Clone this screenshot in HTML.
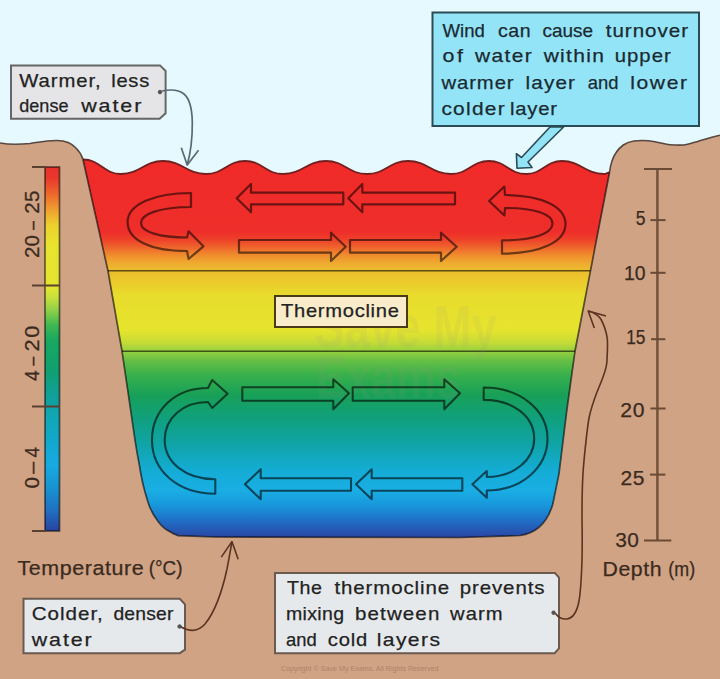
<!DOCTYPE html>
<html><head><meta charset="utf-8">
<style>
html,body{margin:0;padding:0;background:#e5f9fe;overflow:hidden;}
svg{display:block;}
text{font-family:"Liberation Sans",sans-serif;}
</style></head>
<body>
<svg width="720" height="679" viewBox="0 0 720 679">
<defs>
<linearGradient id="wg" gradientUnits="userSpaceOnUse" x1="0" y1="159" x2="0" y2="538">
<stop offset="0.0000" stop-color="#f02a28"/>
<stop offset="0.1926" stop-color="#ee2e2a"/>
<stop offset="0.2137" stop-color="#ee422a"/>
<stop offset="0.2348" stop-color="#ef682c"/>
<stop offset="0.2559" stop-color="#f0902e"/>
<stop offset="0.2744" stop-color="#efaa30"/>
<stop offset="0.2929" stop-color="#edbc2e"/>
<stop offset="0.3272" stop-color="#ebcc2c"/>
<stop offset="0.3588" stop-color="#e8dc2c"/>
<stop offset="0.4512" stop-color="#e6e42e"/>
<stop offset="0.4828" stop-color="#c8dc36"/>
<stop offset="0.5066" stop-color="#98d040"/>
<stop offset="0.5303" stop-color="#68c044"/>
<stop offset="0.5699" stop-color="#38b04c"/>
<stop offset="0.6227" stop-color="#18a058"/>
<stop offset="0.6887" stop-color="#10a080"/>
<stop offset="0.7546" stop-color="#10a4a8"/>
<stop offset="0.8206" stop-color="#14acd4"/>
<stop offset="0.8734" stop-color="#1aaee4"/>
<stop offset="0.9129" stop-color="#1898dc"/>
<stop offset="0.9525" stop-color="#2070c8"/>
<stop offset="1.0000" stop-color="#2a44a2"/>
</linearGradient>
<linearGradient id="tb" gradientUnits="userSpaceOnUse" x1="0" y1="167" x2="0" y2="532">
<stop offset="0.0000" stop-color="#e8302c"/>
<stop offset="0.0301" stop-color="#ea382c"/>
<stop offset="0.0767" stop-color="#ee6a2c"/>
<stop offset="0.1178" stop-color="#f0a030"/>
<stop offset="0.1589" stop-color="#ecd02e"/>
<stop offset="0.2137" stop-color="#e8e42e"/>
<stop offset="0.3288" stop-color="#e4e430"/>
<stop offset="0.3562" stop-color="#c8e03c"/>
<stop offset="0.3918" stop-color="#90d048"/>
<stop offset="0.4329" stop-color="#40b850"/>
<stop offset="0.4740" stop-color="#18a860"/>
<stop offset="0.5562" stop-color="#10a070"/>
<stop offset="0.6384" stop-color="#10a0a0"/>
<stop offset="0.6932" stop-color="#10a8b8"/>
<stop offset="0.7479" stop-color="#12a8cc"/>
<stop offset="0.8164" stop-color="#18aae0"/>
<stop offset="0.8849" stop-color="#1890d0"/>
<stop offset="0.9397" stop-color="#2070c0"/>
<stop offset="1.0000" stop-color="#2a40a0"/>
</linearGradient>
</defs>
<rect x="0" y="0" width="720" height="679" fill="#e5f9fe"/>
<path d="M0,143 C8,144.5 20,144.5 30,143.5 C40,142 48,140.3 57,140.5 C66,140.7 72,143.5 76,148 C79,151 81.5,154.5 83,159.5 L108,271 L122,351 L135,440 C136.5,450 138,458 139.2,464 C140.5,472 141.8,480 143.6,486.5 C145.5,494 147.3,500.5 149.5,506.4 C151.8,512 154,516 156.8,519.6 C160,524.5 163.5,528 167.4,530.3 C171,532.5 174.5,534.5 178,535.6 L215,537 L460,537.5 L520,535.5 C538,533 548,520 552.7,504.5 L559,473.6 L566.6,411.8 L575,351 L590.5,270.6 L609.5,172.5 C610,168 611,164 612,161 C614,155 618,149 623.3,145 C627,142.5 630,141.5 634,141 C640,140.2 647,140.3 655,141.7 C662,143 665,144.5 670,144.8 C676,145.2 680,145.3 684,145 C690,144 693,142.8 697,141.7 C703,140 707,138.6 711,137.5 C714,136.7 717,136 720,135.3 L720,679 L0,679 Z" fill="#cfa384"/>
<path d="M0,143 C8,144.5 20,144.5 30,143.5 C40,142 48,140.3 57,140.5 C66,140.7 72,143.5 76,148 C79,151 81.5,154.5 83,159.5" fill="none" stroke="#574840" stroke-width="1.6"/>
<path d="M609.5,172.5 C610,168 611,164 612,161 C614,155 618,149 623.3,145 C627,142.5 630,141.5 634,141 C640,140.2 647,140.3 655,141.7 C662,143 665,144.5 670,144.8 C676,145.2 680,145.3 684,145 C690,144 693,142.8 697,141.7 C703,140 707,138.6 711,137.5 C714,136.7 717,136 720,135.3" fill="none" stroke="#574840" stroke-width="1.6"/>
<path d="M83,159.5 C100.5,159.5 103.5,174 121,174 C140.3,174 143.7,161 163,161 C182.8,161 186.2,174 206,174 C223.9,174 227.1,161 245,161 C262.5,161 265.5,174 283,174 C302.8,174 306.2,161 326,161 C344.9,161 348.1,174 367,174 C385.9,174 389.1,161 408,161 C427.8,161 431.2,174 451,174 C468.5,174 471.5,161 489,161 C506.0,161 509.0,174 526,174 C542.6,174 545.4,161 562,161 C581.3,161 584.7,174 604,174 C606.5,174 607.0,172.5 609.5,172.5 L590.5,270.6 L575,351 L566.6,411.8 L559,473.6 L552.7,504.5 C548,520 538,533 520,535.5 L460,537.5 L215,537 L178,535.6 C174.5,534.5 171,532.5 167.4,530.3 C163.5,528 160,524.5 156.8,519.6 C154,516 151.8,512 149.5,506.4 C147.3,500.5 145.5,494 143.6,486.5 C141.8,480 140.5,472 139.2,464 C138,458 136.5,450 135,440 L122,351 L108,271 Z" fill="url(#wg)"/>
<path d="M83,159.5 C100.5,159.5 103.5,174 121,174 C140.3,174 143.7,161 163,161 C182.8,161 186.2,174 206,174 C223.9,174 227.1,161 245,161 C262.5,161 265.5,174 283,174 C302.8,174 306.2,161 326,161 C344.9,161 348.1,174 367,174 C385.9,174 389.1,161 408,161 C427.8,161 431.2,174 451,174 C468.5,174 471.5,161 489,161 C506.0,161 509.0,174 526,174 C542.6,174 545.4,161 562,161 C581.3,161 584.7,174 604,174 C606.5,174 607.0,172.5 609.5,172.5" fill="none" stroke="#702020" stroke-width="1.8"/>
<path d="M83,159.5 L108,271 L122,351 L135,440 C136.5,450 138,458 139.2,464 C140.5,472 141.8,480 143.6,486.5 C145.5,494 147.3,500.5 149.5,506.4 C151.8,512 154,516 156.8,519.6 C160,524.5 163.5,528 167.4,530.3 C171,532.5 174.5,534.5 178,535.6 L215,537 L460,537.5 L520,535.5 C538,533 548,520 552.7,504.5 L559,473.6 L566.6,411.8 L575,351 L590.5,270.6 L609.5,172.5" fill="none" stroke="#000" stroke-opacity="0.62" stroke-width="1.7" stroke-linejoin="round"/>
<line x1="108" y1="270.8" x2="590.5" y2="270.8" stroke="#000" stroke-opacity="0.6" stroke-width="1.5"/>
<line x1="122" y1="351.3" x2="575" y2="351.3" stroke="#000" stroke-opacity="0.6" stroke-width="1.5"/>
<g fill="#9a9a80" opacity="0.10" font-size="60" font-weight="bold">
<text x="314" y="347" textLength="183" lengthAdjust="spacingAndGlyphs">Save My</text>
<text x="316" y="398" textLength="145" lengthAdjust="spacingAndGlyphs">Exams</text>
</g>
<g fill="none" stroke="#000" stroke-opacity="0.55" stroke-width="2.2" stroke-linejoin="round">
 <path d="M191,193 L191,207 C160,207 141,214 141,223 C141,232 160,237.5 187,237.5 L188.6,231.3 L203.4,246.3 L188.6,259 L187,251 C150,251 127.6,240 127.6,222 C127.6,204 155,193 191,193 Z"/>
 <path d="M236.7,198.3 L251,184 L251,192.7 L343.3,192.7 L343.3,204.3 L251,204.3 L251,212.3 Z"/>
 <path d="M348.3,198.3 L362.3,184 L362.3,192.7 L455,192.7 L455,204.3 L362.3,204.3 L362.3,212.3 Z"/>
 <path d="M239,240 L331,240 L331,232.7 L345.7,246.7 L331,261 L331,252.7 L239,252.7 Z"/>
 <path d="M350,240 L441,240 L441,232.7 L456.7,246.7 L441,261 L441,252.7 L350,252.7 Z"/>
 <path d="M502,240.4 L502,253.7 C540,253.7 565.5,242 565.5,224 C565.5,206 540,195 505,195 L504.4,186.5 L489.1,201 L504.4,215.5 L505,208 C535,208 552.5,214 552.5,223.5 C552.5,233 535,240.4 502,240.4 Z"/>
</g>
<g fill="none" stroke="#000" stroke-opacity="0.6" stroke-width="2.1" stroke-linejoin="round">
 <path d="M215.3,479.3 L215.3,493.7 C178,493.7 152,471 152,440 C152,410 175,388 208,388 L212.2,380 L227.6,393.7 L212.2,408 L208,402 C183,402 164.7,418 164.7,440 C164.7,462 185,479.3 215.3,479.3 Z"/>
 <path d="M242.3,387.3 L333.3,387.3 L333.3,379.3 L349,393.3 L333.3,409.3 L333.3,400.7 L242.3,400.7 Z"/>
 <path d="M352.7,387.3 L444.3,387.3 L444.3,379.3 L460,393.3 L444.3,409.3 L444.3,400.7 L352.7,400.7 Z"/>
 <path d="M245,484.3 L260.7,469.3 L260.7,478.3 L351,478.3 L351,490.7 L260.7,490.7 L260.7,499.3 Z"/>
 <path d="M356,484.3 L371.7,469.3 L371.7,478.3 L462.3,478.3 L462.3,490.7 L371.7,490.7 L371.7,499.3 Z"/>
 <path d="M483.7,387.5 L483.7,399.9 C514,399.9 534.2,417 534.2,438.5 C534.2,460 514,477 486.8,477 L486.8,471 L472.4,484.3 L486.8,497.7 L486.8,490.5 C522,490.5 547.5,467 547.5,438.5 C547.5,410 520,387.5 483.7,387.5 Z"/>
</g>
<rect x="275" y="296" width="132" height="31" fill="#f8ecca" stroke="#4a3a18" stroke-width="2"/>
<text x="281.00" y="316.7" font-size="19" fill="#222" stroke="#222" stroke-width="0.25" letter-spacing="0.67" textLength="118.60" lengthAdjust="spacingAndGlyphs">Thermocline</text>
<rect x="45" y="167" width="14.5" height="364" fill="url(#tb)" stroke="#000" stroke-opacity="0.55" stroke-width="1.7"/>
<g stroke="#5a4030" stroke-width="2">
<line x1="32" y1="167" x2="46" y2="167"/>
<line x1="32" y1="285.5" x2="60" y2="285.5"/>
<line x1="32" y1="406.5" x2="60" y2="406.5"/>
<line x1="32" y1="531" x2="46" y2="531"/>
</g>
<g transform="rotate(-90)">
<text x="-258.00" y="38.9" font-size="20.5" fill="#3a2a20" stroke="#3a2a20" stroke-width="0.25" letter-spacing="0.10" textLength="23.09" lengthAdjust="spacingAndGlyphs">20</text>
<text x="-230.00" y="38.9" font-size="20.5" fill="#3a2a20" stroke="#3a2a20" stroke-width="0.25" textLength="8.98" lengthAdjust="spacingAndGlyphs">–</text>
<text x="-213.75" y="38.9" font-size="20.5" fill="#3a2a20" stroke="#3a2a20" stroke-width="0.25" letter-spacing="0.17" textLength="23.32" lengthAdjust="spacingAndGlyphs">25</text>
</g>
<g transform="rotate(-90)">
<text x="-381.00" y="38.9" font-size="20.5" fill="#3a2a20" stroke="#3a2a20" stroke-width="0.25" textLength="10.62" lengthAdjust="spacingAndGlyphs">4</text>
<text x="-365.70" y="38.9" font-size="20.5" fill="#3a2a20" stroke="#3a2a20" stroke-width="0.25" textLength="8.88" lengthAdjust="spacingAndGlyphs">–</text>
<text x="-351.50" y="38.9" font-size="20.5" fill="#3a2a20" stroke="#3a2a20" stroke-width="0.25" letter-spacing="1.55" textLength="27.54" lengthAdjust="spacingAndGlyphs">20</text>
</g>
<g transform="rotate(-90)">
<text x="-488.50" y="38.9" font-size="20.5" fill="#3a2a20" stroke="#3a2a20" stroke-width="0.25" textLength="11.52" lengthAdjust="spacingAndGlyphs">0</text>
<text x="-473.70" y="38.9" font-size="20.5" fill="#3a2a20" stroke="#3a2a20" stroke-width="0.25" textLength="11.87" lengthAdjust="spacingAndGlyphs">–</text>
<text x="-457.50" y="38.9" font-size="20.5" fill="#3a2a20" stroke="#3a2a20" stroke-width="0.25" textLength="10.52" lengthAdjust="spacingAndGlyphs">4</text>
</g>
<text x="17.50" y="575" font-size="20.5" fill="#3a2a20" stroke="#3a2a20" stroke-width="0.25" letter-spacing="0.56" textLength="126.81" lengthAdjust="spacingAndGlyphs">Temperature</text>
<text x="148.75" y="575" font-size="20.5" fill="#3a2a20" stroke="#3a2a20" stroke-width="0.25" textLength="33.76" lengthAdjust="spacingAndGlyphs">(°C)</text>
<g stroke="#74523a" stroke-width="2.5">
<line x1="657.4" y1="168.8" x2="657.4" y2="540.5"/>
</g>
<g stroke="#6a4a34" stroke-width="2">
<line x1="644" y1="169" x2="672" y2="169"/>
<line x1="650.4" y1="220.1" x2="665.6" y2="220.1"/>
<line x1="650.4" y1="272.8" x2="665.6" y2="272.8"/>
<line x1="651" y1="339.2" x2="665.3" y2="339.2"/>
<line x1="650.4" y1="408.5" x2="665.6" y2="408.5"/>
<line x1="650" y1="474.6" x2="665.4" y2="474.6"/>
<line x1="644" y1="540.5" x2="671.3" y2="540.5"/>
</g>
<text x="635.80" y="225.4" font-size="20.5" fill="#3a2a20" stroke="#3a2a20" stroke-width="0.25" textLength="9.72" lengthAdjust="spacingAndGlyphs">5</text>
<text x="623.90" y="280.1" font-size="20.5" fill="#3a2a20" stroke="#3a2a20" stroke-width="0.25" textLength="21.60" lengthAdjust="spacingAndGlyphs">10</text>
<text x="626.20" y="344.3" font-size="20.5" fill="#3a2a20" stroke="#3a2a20" stroke-width="0.25" textLength="19.20" lengthAdjust="spacingAndGlyphs">15</text>
<text x="620.30" y="417.3" font-size="20.5" fill="#3a2a20" stroke="#3a2a20" stroke-width="0.25" letter-spacing="0.75" textLength="25.07" lengthAdjust="spacingAndGlyphs">20</text>
<text x="620.50" y="484.5" font-size="20.5" fill="#3a2a20" stroke="#3a2a20" stroke-width="0.25" letter-spacing="0.60" textLength="24.61" lengthAdjust="spacingAndGlyphs">25</text>
<text x="615.30" y="547.1" font-size="20.5" fill="#3a2a20" stroke="#3a2a20" stroke-width="0.25" letter-spacing="0.40" textLength="24.00" lengthAdjust="spacingAndGlyphs">30</text>
<text x="602.60" y="576.1" font-size="20.5" fill="#3a2a20" stroke="#3a2a20" stroke-width="0.25" letter-spacing="0.53" textLength="59.47" lengthAdjust="spacingAndGlyphs">Depth</text>
<text x="668.30" y="576.1" font-size="20.5" fill="#3a2a20" stroke="#3a2a20" stroke-width="0.25" textLength="26.78" lengthAdjust="spacingAndGlyphs">(m)</text>
<path d="M11,65.4 L160,65.4 L165.6,71 L165.6,113.3 L159.6,118.8 L11,118.8 Z" fill="#e5e5e7" stroke="#666" stroke-width="2"/>
<text x="19.30" y="86.5" font-size="19" fill="#222" stroke="#222" stroke-width="0.25" letter-spacing="0.85" textLength="82.23" lengthAdjust="spacingAndGlyphs">Warmer,</text>
<text x="111.20" y="86.5" font-size="19" fill="#222" stroke="#222" stroke-width="0.25" letter-spacing="0.70" textLength="38.76" lengthAdjust="spacingAndGlyphs">less</text>
<text x="19.30" y="111.7" font-size="19" fill="#222" stroke="#222" stroke-width="0.25" textLength="49.19" lengthAdjust="spacingAndGlyphs">dense</text>
<text x="81.15" y="111.7" font-size="19" fill="#222" stroke="#222" stroke-width="0.25" letter-spacing="1.72" textLength="62.20" lengthAdjust="spacingAndGlyphs">water</text>
<circle cx="160" cy="92.1" r="1.8" fill="#555" stroke="#444" stroke-width="0.8"/>
<path d="M162,91 C168,89.8 178,89 184,94 C190,99 192,108 192.3,122 C192.5,140 190,155 187.2,165" fill="none" stroke="#5a6a74" stroke-width="1.7"/>
<path d="M181.3,147.8 L187.2,165 L198.5,150.2" fill="none" stroke="#5a6a74" stroke-width="1.7" stroke-linejoin="round"/>
<rect x="432.5" y="12.5" width="266.5" height="113.5" fill="#94e4f8" stroke="#2a4a55" stroke-width="2"/>
<text x="442.50" y="37.1" font-size="19" fill="#1a2a30" stroke="#1a2a30" stroke-width="0.25" textLength="42.32" lengthAdjust="spacingAndGlyphs">Wind</text>
<text x="498.10" y="37.1" font-size="19" fill="#1a2a30" stroke="#1a2a30" stroke-width="0.25" letter-spacing="0.47" textLength="32.98" lengthAdjust="spacingAndGlyphs">can</text>
<text x="542.50" y="37.1" font-size="19" fill="#1a2a30" stroke="#1a2a30" stroke-width="0.25" textLength="50.62" lengthAdjust="spacingAndGlyphs">cause</text>
<text x="605.70" y="37.1" font-size="19" fill="#1a2a30" stroke="#1a2a30" stroke-width="0.25" letter-spacing="0.91" textLength="83.41" lengthAdjust="spacingAndGlyphs">turnover</text>
<text x="442.50" y="62.3" font-size="19" fill="#1a2a30" stroke="#1a2a30" stroke-width="0.25" letter-spacing="2.37" textLength="23.25" lengthAdjust="spacingAndGlyphs">of</text>
<text x="475.05" y="62.3" font-size="19" fill="#1a2a30" stroke="#1a2a30" stroke-width="0.25" letter-spacing="1.27" textLength="58.06" lengthAdjust="spacingAndGlyphs">water</text>
<text x="543.65" y="62.3" font-size="19" fill="#1a2a30" stroke="#1a2a30" stroke-width="0.25" letter-spacing="1.17" textLength="61.52" lengthAdjust="spacingAndGlyphs">within</text>
<text x="614.80" y="62.3" font-size="19" fill="#1a2a30" stroke="#1a2a30" stroke-width="0.25" letter-spacing="0.91" textLength="56.88" lengthAdjust="spacingAndGlyphs">upper</text>
<text x="441.45" y="89.2" font-size="19" fill="#1a2a30" stroke="#1a2a30" stroke-width="0.25" letter-spacing="0.88" textLength="73.11" lengthAdjust="spacingAndGlyphs">warmer</text>
<text x="525.60" y="89.2" font-size="19" fill="#1a2a30" stroke="#1a2a30" stroke-width="0.25" letter-spacing="1.03" textLength="50.52" lengthAdjust="spacingAndGlyphs">layer</text>
<text x="587.70" y="89.2" font-size="19" fill="#1a2a30" stroke="#1a2a30" stroke-width="0.25" textLength="30.72" lengthAdjust="spacingAndGlyphs">and</text>
<text x="630.30" y="89.2" font-size="19" fill="#1a2a30" stroke="#1a2a30" stroke-width="0.25" letter-spacing="1.41" textLength="58.26" lengthAdjust="spacingAndGlyphs">lower</text>
<text x="441.40" y="115.2" font-size="19" fill="#1a2a30" stroke="#1a2a30" stroke-width="0.25" letter-spacing="1.15" textLength="64.49" lengthAdjust="spacingAndGlyphs">colder</text>
<text x="510.00" y="115.2" font-size="19" fill="#1a2a30" stroke="#1a2a30" stroke-width="0.25" letter-spacing="0.73" textLength="47.78" lengthAdjust="spacingAndGlyphs">layer</text>
<path d="M550,127 L563.6,127 L528,162 L532,167.5 L517,168.3 L516.4,153.7 L521.5,157.5 Z" fill="#94e4f8" stroke="#2a4a55" stroke-width="1.6" stroke-linejoin="round"/>
<path d="M23.5,598.8 L179.8,598.8 L185,604.4 L185,649.7 L179.8,653.2 L23.5,653.2 Z" fill="#e6e9ec" stroke="#6a5a50" stroke-width="2"/>
<text x="31.70" y="620" font-size="19" fill="#222" stroke="#222" stroke-width="0.25" letter-spacing="0.91" textLength="72.11" lengthAdjust="spacingAndGlyphs">Colder,</text>
<text x="113.40" y="620" font-size="19" fill="#222" stroke="#222" stroke-width="0.25" letter-spacing="0.19" textLength="60.20" lengthAdjust="spacingAndGlyphs">denser</text>
<text x="31.75" y="646.2" font-size="19" fill="#222" stroke="#222" stroke-width="0.25" letter-spacing="1.69" textLength="61.86" lengthAdjust="spacingAndGlyphs">water</text>
<circle cx="179.6" cy="626.5" r="1.8" fill="#555" stroke="#444" stroke-width="0.8"/>
<path d="M181,627 C190,632 198,632 205,624 C214,613 222,592 227,569 C229,558 231,548 231.9,541.6" fill="none" stroke="#5a3420" stroke-width="1.6"/>
<path d="M221.3,557.1 L231.9,541.6 L238.2,559.3" fill="none" stroke="#5a3420" stroke-width="1.6" stroke-linejoin="round"/>
<path d="M275,573 L555,573 L559,577.7 L559,648.4 L554.6,653.2 L275,653.2 Z" fill="#e6e9ec" stroke="#6a5a50" stroke-width="2"/>
<text x="287.00" y="594.3" font-size="19" fill="#222" stroke="#222" stroke-width="0.25" letter-spacing="0.57" textLength="35.60" lengthAdjust="spacingAndGlyphs">The</text>
<text x="334.40" y="594.3" font-size="19" fill="#222" stroke="#222" stroke-width="0.25" letter-spacing="0.83" textLength="115.67" lengthAdjust="spacingAndGlyphs">thermocline</text>
<text x="459.70" y="594.3" font-size="19" fill="#222" stroke="#222" stroke-width="0.25" letter-spacing="0.85" textLength="85.73" lengthAdjust="spacingAndGlyphs">prevents</text>
<text x="286.00" y="619.8" font-size="19" fill="#222" stroke="#222" stroke-width="0.25" letter-spacing="0.31" textLength="58.31" lengthAdjust="spacingAndGlyphs">mixing</text>
<text x="355.00" y="619.8" font-size="19" fill="#222" stroke="#222" stroke-width="0.25" letter-spacing="1.04" textLength="85.44" lengthAdjust="spacingAndGlyphs">between</text>
<text x="450.05" y="619.8" font-size="19" fill="#222" stroke="#222" stroke-width="0.25" letter-spacing="1.03" textLength="53.73" lengthAdjust="spacingAndGlyphs">warm</text>
<text x="286.00" y="645.6" font-size="19" fill="#222" stroke="#222" stroke-width="0.25" textLength="30.72" lengthAdjust="spacingAndGlyphs">and</text>
<text x="327.70" y="645.6" font-size="19" fill="#222" stroke="#222" stroke-width="0.25" letter-spacing="0.79" textLength="40.43" lengthAdjust="spacingAndGlyphs">cold</text>
<text x="376.70" y="645.6" font-size="19" fill="#222" stroke="#222" stroke-width="0.25" letter-spacing="1.26" textLength="64.70" lengthAdjust="spacingAndGlyphs">layers</text>
<circle cx="553.6" cy="612.7" r="1.8" fill="#555" stroke="#444" stroke-width="0.8"/>
<path d="M555.5,613.5 C558,617 562,619.5 567,619 C573,618 577,612 579,601 C581,590 581.5,575 582,560 C582.5,540 582,525 582,513.7 C582,495 582.5,475 584,460.7 C585.5,445 587,430 589,418 C591,408 594,400 597,392 C601,382 606,372 606.8,363 C607.5,352 607.8,345 607.3,338.6 C606,330 603,323 600.8,319 C597,314 593,312 588.2,311" fill="none" stroke="#5a3420" stroke-width="1.6"/>
<path d="M594.3,328 L588.2,311 L606,316" fill="none" stroke="#5a3420" stroke-width="1.6" stroke-linejoin="round"/>
<text x="281" y="671" font-size="7" fill="#b0826c" textLength="157.5" lengthAdjust="spacingAndGlyphs">Copyright © Save My Exams. All Rights Reserved</text>
</svg>
</body></html>
